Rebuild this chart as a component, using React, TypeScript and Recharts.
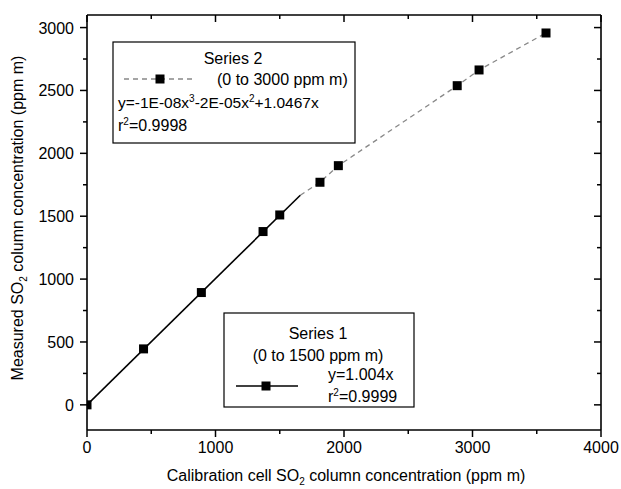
import React from "react";
import { ScatterChart, Scatter, XAxis, YAxis } from "recharts";

// calibration cell (x) vs measured (y), ppm m
const series1Calib = [0, 440, 890, 1370, 1500];
const series1Measured = [0, 445, 893, 1378, 1510];
const series2Calib = [1813, 1956, 2881, 3051, 3572];
const series2Measured = [1770, 1902, 2538, 2663, 2957];

// fitted lines
const fit1Calib = [0, 1660];
const fit1Measured = [0, 1667];
const fit2Calib = [1660, 1813, 1956, 2881, 3051, 3572];
const fit2Measured = [1667, 1770, 1902, 2538, 2663, 2957];

const xTicks = [0, 500, 1000, 1500, 2000, 2500, 3000, 3500, 4000];
const yTicks = [0, 250, 500, 750, 1000, 1250, 1500, 1750, 2000, 2250, 2500, 2750, 3000];

const zip = (xs: number[], ys: number[]) => xs.map((x, i) => ({ x, y: ys[i] }));

const FONT = "'Liberation Sans', Arial, sans-serif";

const Square = (props: any) => {
  const { cx, cy } = props;
  if (cx == null || cy == null) return <g />;
  return <rect x={cx - 4.5} y={cy - 4.5} width={9} height={9} fill="#000" />;
};

const NoShape = () => <g />;

const BottomTick = (props: any) => {
  const { x, y, payload } = props;
  const major = payload.value % 1000 === 0;
  return (
    <g>
      <line x1={x} y1={y} x2={x} y2={y + (major ? 7 : 4)} stroke="#000" strokeWidth={1.5} />
      {major && (
        <text x={x} y={y + 23} textAnchor="middle" fontSize={16} fontFamily={FONT} fill="#000">
          {payload.value}
        </text>
      )}
    </g>
  );
};

// top axis: ticks point down into the plot
const TopTick = (props: any) => {
  const { x, y, payload } = props;
  const major = payload.value % 1000 === 0;
  return <line x1={x} y1={y} x2={x} y2={y + (major ? 7 : 4)} stroke="#000" strokeWidth={1.5} />;
};

const LeftTick = (props: any) => {
  const { x, y, payload } = props;
  const major = payload.value % 500 === 0;
  return (
    <g>
      <line x1={x} y1={y} x2={x - (major ? 7 : 4)} y2={y} stroke="#000" strokeWidth={1.5} />
      {major && (
        <text x={x - 13} y={y + 6} textAnchor="end" fontSize={16} fontFamily={FONT} fill="#000">
          {payload.value}
        </text>
      )}
    </g>
  );
};

// right axis: ticks point left into the plot
const RightTick = (props: any) => {
  const { x, y, payload } = props;
  const major = payload.value % 500 === 0;
  return <line x1={x} y1={y} x2={x - (major ? 7 : 4)} y2={y} stroke="#000" strokeWidth={1.5} />;
};

const Annotations = () => (
  <g fontFamily={FONT} fill="#000">
    <text x={18} y={218} fontSize={16} textAnchor="middle" transform="rotate(-90 18 218)" dy={5}>
      Measured SO<tspan fontSize={10} dy={4}>2</tspan>
      <tspan dy={-4}> column concentration (ppm m)</tspan>
    </text>
    <text x={346} y={481} fontSize={16} textAnchor="middle">
      Calibration cell SO<tspan fontSize={10} dy={4}>2</tspan>
      <tspan dy={-4}> column concentration (ppm m)</tspan>
    </text>

    {/* Series 2 box */}
    <rect x={113} y={42} width={242} height={101} fill="#fff" stroke="#000" strokeWidth={1.2} />
    <text x={233} y={64} fontSize={16} textAnchor="middle">Series 2</text>
    <line x1={124} y1={79} x2={196} y2={79} stroke="#888" strokeWidth={1.3} strokeDasharray="5 4" />
    <rect x={155.5} y={74.5} width={9} height={9} fill="#000" />
    <text x={217} y={85} fontSize={16}>(0 to 3000 ppm m)</text>
    <text x={118} y={108} fontSize={15.5}>
      y=-1E-08x<tspan fontSize={10} dy={-6}>3</tspan>
      <tspan dy={6}>-2E-05x</tspan>
      <tspan fontSize={10} dy={-6}>2</tspan>
      <tspan dy={6}>+1.0467x</tspan>
    </text>
    <text x={118} y={131} fontSize={16}>
      r<tspan fontSize={10} dy={-6}>2</tspan>
      <tspan dy={6}>=0.9998</tspan>
    </text>

    {/* Series 1 box */}
    <rect x={224} y={313} width={190} height={94} fill="#fff" stroke="#000" strokeWidth={1.2} />
    <text x={318} y={339} fontSize={16} textAnchor="middle">Series 1</text>
    <text x={318} y={361} fontSize={16} textAnchor="middle">(0 to 1500 ppm m)</text>
    <line x1={236} y1={386} x2={298} y2={386} stroke="#000" strokeWidth={1.5} />
    <rect x={261.5} y={381.5} width={9} height={9} fill="#000" />
    <text x={328} y={380} fontSize={16}>y=1.004x</text>
    <text x={328} y={402} fontSize={16}>
      r<tspan fontSize={10} dy={-6}>2</tspan>
      <tspan dy={6}>=0.9999</tspan>
    </text>
  </g>
);

export default function App() {
  return (
    <div style={{ position: "absolute", left: 0, top: 0, background: "#fff" }}>
      <ScatterChart width={621} height={489} margin={{ top: 14, right: 19, bottom: 0, left: 0 }}>
        <XAxis
          xAxisId={0}
          type="number"
          dataKey="x"
          domain={[0, 4000]}
          allowDataOverflow
          ticks={xTicks}
          interval={0}
          height={59}
          tickSize={0}
          tickMargin={0}
          tickLine={false}
          axisLine={{ stroke: "#000", strokeWidth: 1.6 }}
          tick={<BottomTick />}
        />
        <XAxis
          xAxisId="top"
          orientation="top"
          type="number"
          dataKey="x"
          domain={[0, 4000]}
          allowDataOverflow
          ticks={xTicks}
          interval={0}
          height={1}
          tickSize={0}
          tickMargin={0}
          tickLine={false}
          axisLine={{ stroke: "#000", strokeWidth: 1.6 }}
          tick={<TopTick />}
        />
        <YAxis
          yAxisId={0}
          type="number"
          dataKey="y"
          domain={[-200, 3100]}
          allowDataOverflow
          ticks={yTicks}
          interval={0}
          width={87}
          tickSize={0}
          tickMargin={0}
          tickLine={false}
          axisLine={{ stroke: "#000", strokeWidth: 1.6 }}
          tick={<LeftTick />}
        />
        <YAxis
          yAxisId="right"
          orientation="right"
          type="number"
          dataKey="y"
          domain={[-200, 3100]}
          allowDataOverflow
          ticks={yTicks}
          interval={0}
          width={1}
          tickSize={0}
          tickMargin={0}
          tickLine={false}
          axisLine={{ stroke: "#000", strokeWidth: 1.6 }}
          tick={<RightTick />}
        />
        {/* hidden series bound to the mirror axes */}
        <Scatter
          name="mirror"
          xAxisId="top"
          yAxisId="right"
          data={zip(series1Calib, series1Measured)}
          shape={<NoShape />}
          isAnimationActive={false}
        />
        <Scatter
          name="fit2"
          data={zip(fit2Calib, fit2Measured)}
          line={{ stroke: "#888", strokeWidth: 1.3, strokeDasharray: "5 4" }}
          lineType="joint"
          shape={<NoShape />}
          isAnimationActive={false}
        />
        <Scatter
          name="fit1"
          data={zip(fit1Calib, fit1Measured)}
          line={{ stroke: "#000", strokeWidth: 1.6 }}
          lineType="joint"
          shape={<NoShape />}
          isAnimationActive={false}
        />
        <Scatter
          name="Series 1"
          data={zip(series1Calib, series1Measured)}
          shape={<Square />}
          isAnimationActive={false}
        />
        <Scatter
          name="Series 2"
          data={zip(series2Calib, series2Measured)}
          shape={<Square />}
          isAnimationActive={false}
        />
        <Annotations />
      </ScatterChart>
    </div>
  );
}
